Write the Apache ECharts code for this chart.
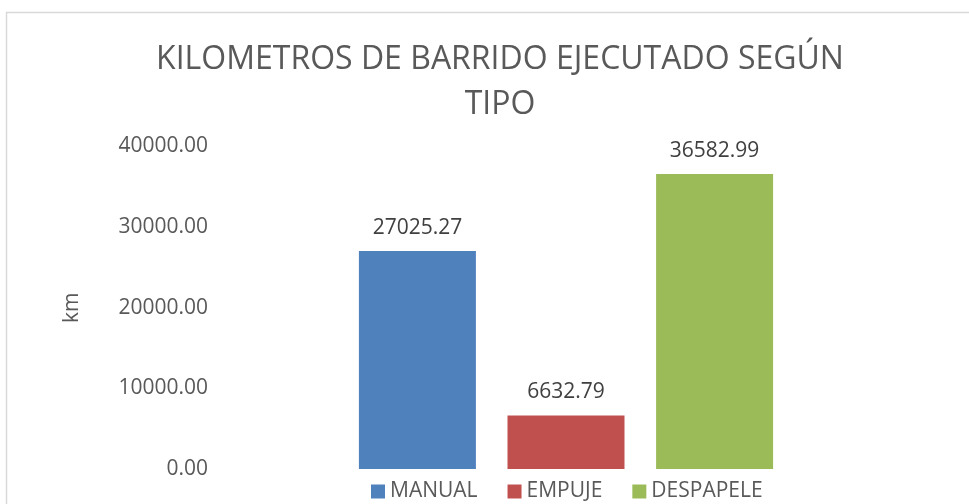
<!DOCTYPE html>
<html>
<head>
<meta charset="utf-8">
<style>html,body{margin:0;padding:0;background:#fff;}#chart{width:969px;height:504px;}</style>
<script src="https://cdn.jsdelivr.net/npm/echarts@6/dist/echarts.min.js"></script>
</head>
<body>
<div id="chart"></div>
<script>
var titleText = "KILOMETROS DE BARRIDO EJECUTADO SEGÚN\nTIPO";
var seriesNames = ["MANUAL", "EMPUJE", "DESPAPELE"];
var seriesValues = [27025.27, 6632.79, 36582.99];
var seriesColors = ["#4f81bd", "#c0504d", "#9bbb59"];
var categories = [""];
var yTicks = [0, 10000, 20000, 30000, 40000];
var yName = "km";

var FONT = "'Open Sans', sans-serif";
var chart = echarts.init(document.getElementById('chart'), null, {renderer: 'canvas'});
var series = seriesNames.map(function (n, i) {
  return {
    name: n,
    type: 'bar',
    data: [seriesValues[i]],
    barWidth: 117,
    barGap: '27%',
    itemStyle: {color: seriesColors[i]},
    label: {
      show: true, position: 'top', distance: 13,
      color: '#404040', fontFamily: FONT, fontSize: 21,
      formatter: function (p) { return p.value.toFixed(2); }
    }
  };
});
chart.setOption({
  animation: false,
  backgroundColor: '#ffffff',
  graphic: [{
    type: 'rect', shape: {x: 6.5, y: 12.5, width: 1000, height: 600},
    style: {fill: 'none', stroke: '#d9d9d9', lineWidth: 1.5}, silent: true
  }],
  title: {
    text: titleText, left: 495, top: 32, textAlign: 'center',
    textStyle: {fontFamily: FONT, fontWeight: 'normal', fontSize: 32, lineHeight: 45, color: '#595959'}
  },
  legend: {
    data: seriesNames, left: 366, top: 476, itemWidth: 14, itemHeight: 14, itemGap: 30,
    icon: 'rect',
    textStyle: {fontFamily: FONT, fontSize: 21, color: '#595959'}
  },
  grid: {left: 216, right: 53, top: 146.5, bottom: 35, containLabel: false},
  xAxis: {
    type: 'category', data: categories,
    axisLine: {show: false}, axisTick: {show: false}, axisLabel: {show: false}, splitLine: {show: false}
  },
  yAxis: {
    type: 'value', min: yTicks[0], max: yTicks[yTicks.length - 1], interval: yTicks[1] - yTicks[0],
    name: yName, nameLocation: 'middle', nameGap: 133,
    nameTextStyle: {fontFamily: FONT, fontSize: 21, color: '#595959'},
    axisLine: {show: false}, axisTick: {show: false}, splitLine: {show: false},
    axisLabel: {fontFamily: FONT, fontSize: 21, color: '#595959', margin: 8,
      formatter: function (v) { return v.toFixed(2); }}
  },
  series: series
});
</script>
</body>
</html>
